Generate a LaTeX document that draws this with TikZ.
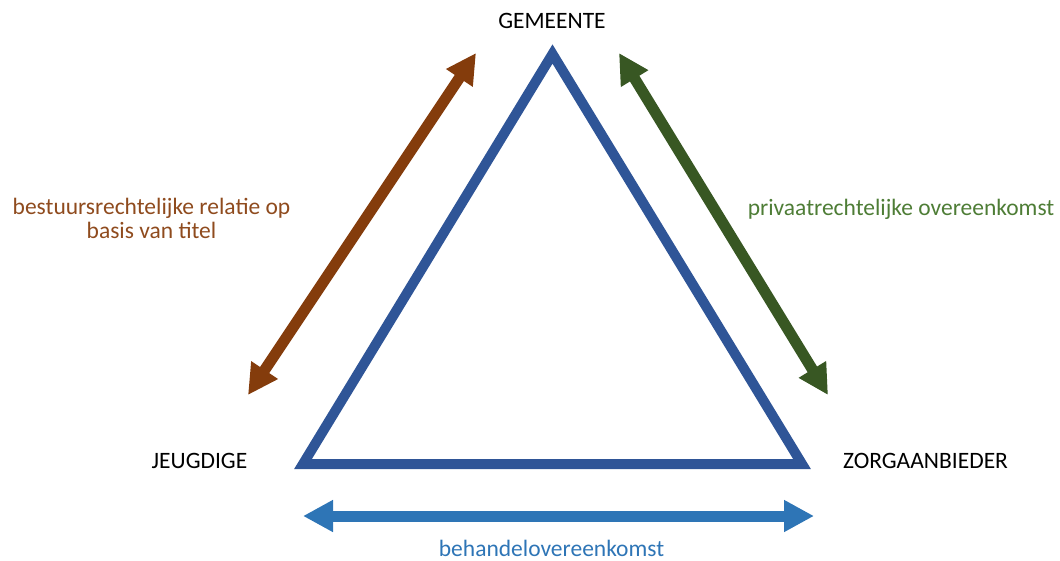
\documentclass[tikz,border=0pt]{standalone}
\usepackage{fontspec}
\setmainfont{Carlito}
\usetikzlibrary{arrows.meta}
\definecolor{tri}{HTML}{2F5597}
\definecolor{barrow}{HTML}{2E75B6}
\definecolor{brarrow}{HTML}{843C0C}
\definecolor{brtext}{HTML}{8F4B1E}
\definecolor{grarrow}{HTML}{385723}
\definecolor{grtext}{HTML}{4E7D36}
\tikzset{
  lbl/.style={inner sep=0pt, font=\fontsize{23.5}{24}\selectfont, anchor=base},
  relarrow/.style={line width=11pt, {Triangle[width=30pt,length=30pt]}-{Triangle[width=30pt,length=30pt]}},
  tribox/.style={draw=tri, line width=10pt, line join=miter, miter limit=10}
}
\begin{document}
\begin{tikzpicture}[x=1pt,y=-1pt]
\useasboundingbox (0,0) rectangle (1060,560);
% triangle corners
\coordinate (top) at (552.5,54);
\coordinate (bl) at (303,464);
\coordinate (br) at (802,464);
\draw[tribox] (top) -- (bl) -- (br) -- cycle;
% labels
\node[lbl] (gem) at (552,28) {GEMEENTE};
\node[lbl] (jeugd) at (199.5,468) {JEUGDIGE};
\node[lbl] (zorg) at (925.5,468) {ZORGAANBIEDER};
\node[lbl, text=brtext] (l1) at (151.5,214) {bestuursrechtelijke relatie op};
\node[lbl, text=brtext] (l2) at (151.5,238.5) {basis van titel};
\node[lbl, text=grtext] (r1) at (901,215) {privaatrechtelijke overeenkomst};
\node[lbl, text=barrow] (b1) at (551.5,556) {behandelovereenkomst};
% arrow end points
\coordinate (bra) at (476,53);
\coordinate (brb) at (248,395);
\coordinate (gra) at (619,53);
\coordinate (grb) at (828,395);
\coordinate (bla) at (303,516);
\coordinate (blb) at (814,516);
\draw[relarrow, draw=brarrow, fill=brarrow] (brb) -- (bra);
\draw[relarrow, draw=grarrow, fill=grarrow] (gra) -- (grb);
\draw[relarrow, draw=barrow, fill=barrow] (bla) -- (blb);
\end{tikzpicture}
\end{document}
